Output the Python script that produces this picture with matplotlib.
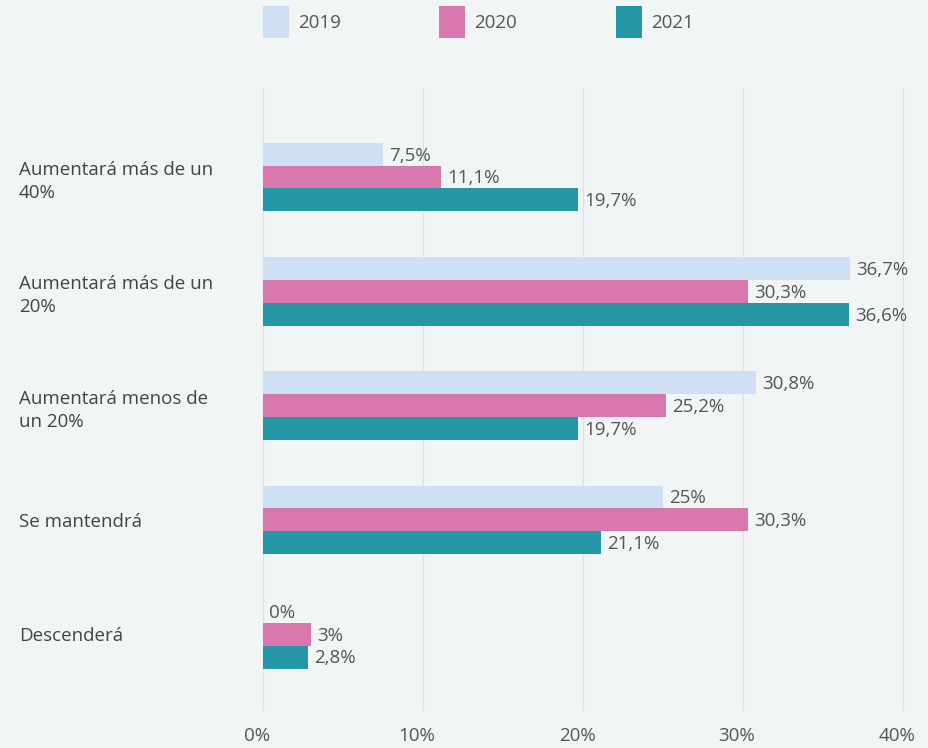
import matplotlib

matplotlib.use("Agg")
import matplotlib.pyplot as plt
import matplotlib.transforms as mtransforms
import numpy as np

# Data
categories = [
    "Aumentará más de un\n40%",
    "Aumentará más de un\n20%",
    "Aumentará menos de\nun 20%",
    "Se mantendrá",
    "Descenderá",
]
years = ["2019", "2020", "2021"]
v2019 = [7.5, 36.7, 30.8, 25.0, 0.0]
v2020 = [11.1, 30.3, 25.2, 30.3, 3.0]
v2021 = [19.7, 36.6, 19.7, 21.1, 2.8]
xticks = [0, 10, 20, 30, 40]

# Palette
BG = "#f1f5f6"
COLORS = ["#cfe0f5", "#d877ab", "#2596a5"]
GRID = "#dde3e6"
INK = "#444444"
LABEL = "#555555"
FS = 13.5

plt.rcParams["font.family"] = ["Open Sans", "DejaVu Sans"]


def fmt(v):
    return f"{v:g}".replace(".", ",") + "%"


fig = plt.figure(figsize=(9.29, 7.48), dpi=100, facecolor=BG)
ax = fig.add_axes([263 / 929, 38 / 748, 640 / 929, 622 / 748])
ax.set_facecolor(BG)

y = np.arange(len(categories))
h = 0.2
series = [v2019, v2020, v2021]
for i, (vals, col, yr) in enumerate(zip(series, COLORS, years)):
    pos = y + (i - 1) * h
    ax.barh(pos, vals, height=h, color=col, label=yr, zorder=2)
    for p, v in zip(pos, vals):
        ax.annotate(fmt(v), (v, p), xytext=(4.5, -1), textcoords="offset points",
                    ha="left", va="center", fontsize=FS, color=LABEL, zorder=3)

ax.set_xlim(0, 40)
ax.set_ylim(4.663, -0.779)
ax.set_xticks(xticks)
ax.set_xticklabels([f"{t}%" for t in xticks], fontsize=FS, color=LABEL)
ax.set_yticks(y)
ax.set_yticklabels(categories, fontsize=FS, color=INK, linespacing=1.35)
for lab in ax.get_yticklabels():
    lab.set_ha("left")
ax.tick_params(axis="y", length=0, pad=244 * 0.72)
ax.tick_params(axis="x", length=0, pad=12)
shift = mtransforms.ScaledTranslation(-6 / 100, 0, fig.dpi_scale_trans)
for lab in ax.get_xticklabels():
    lab.set_transform(lab.get_transform() + shift)

for t in xticks:
    ax.axvline(t, color=GRID, linewidth=1, zorder=1, clip_on=False)
for s in ax.spines.values():
    s.set_visible(False)

ax.legend(loc="upper left", bbox_to_anchor=(263 / 929, 1 - 6 / 748),
          bbox_transform=fig.transFigure, ncol=3, frameon=False,
          fontsize=FS, handlelength=1.39, handleheight=2.25,
          handletextpad=0.48, columnspacing=5.25, borderpad=0,
          borderaxespad=0, labelcolor=LABEL)

fig.savefig("out.png", dpi=100, facecolor=BG)
